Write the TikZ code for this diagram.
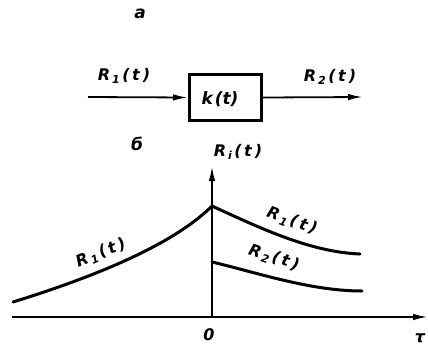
\documentclass[tikz,border=0pt]{standalone}
\usepackage{fontspec}
\setmainfont{DejaVu Sans}
\usetikzlibrary{arrows.meta}
\newcommand\Rl[1]{R\kern2pt\raisebox{-3pt}{\fontsize{11}{11}\selectfont #1}\kern2.5pt(\kern2.5pt t\kern3pt)}
\begin{document}
\begin{tikzpicture}[x=1pt,y=-1pt,
  lbl/.style={font=\fontsize{16}{16}\selectfont\bfseries\itshape, inner sep=0pt},
  arr/.style={line width=1.8pt, -{Latex[length=15pt,width=6.5pt]}},
  axis/.style={line width=2pt, -{Latex[length=15pt,width=6.5pt]}},
  curve/.style={line width=3pt, line cap=round},
  blockbox/.style={draw, line width=3pt, minimum width=72pt, minimum height=46pt, inner sep=0pt}]
\useasboundingbox (0,0) rectangle (428,346);
% part a
\node[lbl, font=\fontsize{17}{17}\selectfont\bfseries\itshape] (ta) at (140,14) {а};
\node[blockbox] (blk) at (225.5,97.5) {};
\node[lbl, font=\fontsize{17}{17}\selectfont\bfseries\itshape] (kt) at (220,99) {k\kern2pt(t)};
\coordinate (inp) at (88,97);
\coordinate (outp) at (363,97);
\draw[arr] (inp) -- (blk.west);
\draw[arr] (blk.east) -- (outp);
\node[lbl] (r1in) at (124,76) {\Rl{1}};
\node[lbl] (r2out) at (330,77) {\Rl{2}};
% part b
\node[lbl, font=\fontsize{17}{17}\selectfont\bfseries\itshape] (tb) at (137,144) {б};
\coordinate (o) at (212,317);
\coordinate (xl) at (12,317);
\coordinate (xr) at (428,317);
\coordinate (yt) at (212,166);
\draw[axis] (xl) -- (xr);
\draw[axis] (o) -- (yt);
\node[lbl] (ri) at (238,152) {\Rl{i}};
\node[lbl] (zero) at (209,335) {0};
\node[lbl] (tau) at (420,338) {τ};
\coordinate (pk) at (212,206);
\coordinate (l0) at (13,302);
\coordinate (r1e) at (360,254);
\coordinate (r2s) at (212,262);
\coordinate (r2e) at (362,291);
\draw[curve] (l0) .. controls (110,272) and (178,240) .. (pk);
\draw[curve] (pk) .. controls (260,228) and (310,252) .. (r1e);
\draw[curve] (r2s) .. controls (255,272) and (310,291) .. (r2e);
\node[lbl, rotate=22] (r1l) at (101,253) {\Rl{1}};
\node[lbl, rotate=-20] (r1r) at (292,221) {\Rl{1}};
\node[lbl, rotate=-18] (r2r) at (274,258) {\Rl{2}};
\end{tikzpicture}
\end{document}
